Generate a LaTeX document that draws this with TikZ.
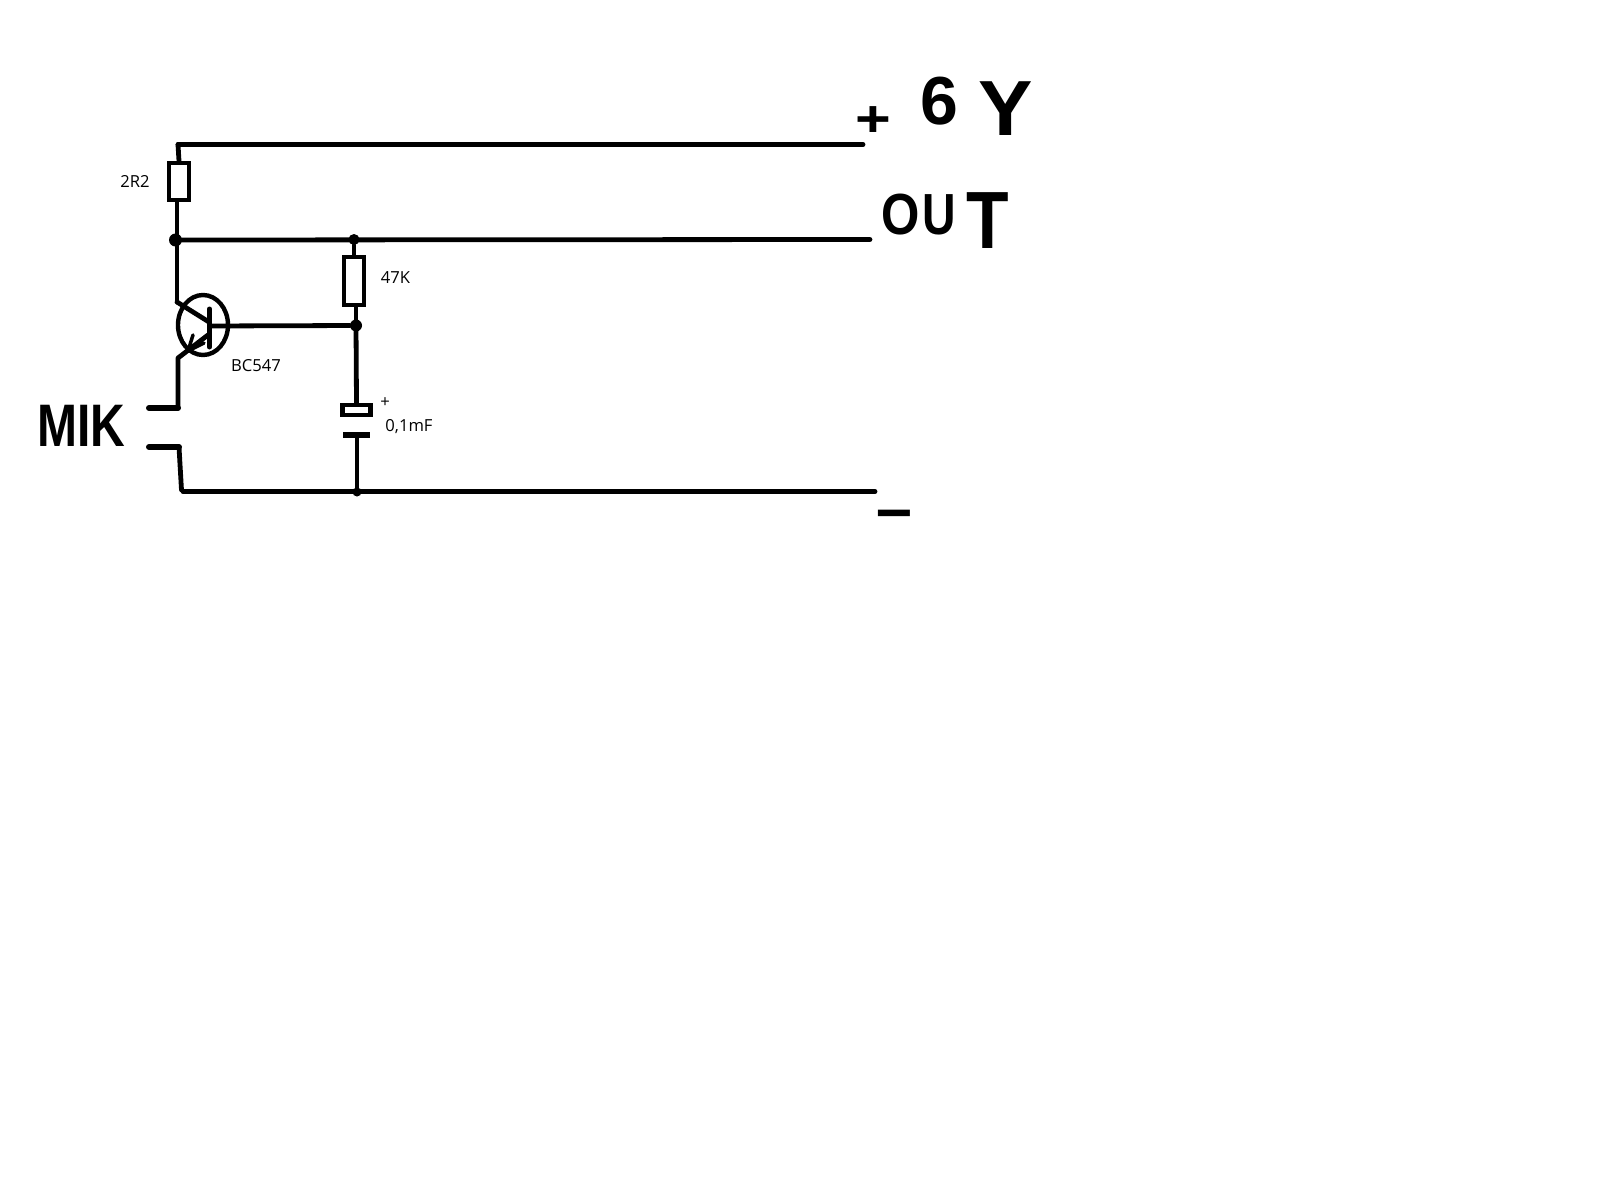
\documentclass[tikz,border=0pt]{standalone}
\usepackage{fontspec}
\usepackage{graphicx}
\setmainfont{Open Sans}
\newfontfamily\handfont{Liberation Sans}[BoldFont={Liberation Sans Bold}]
\usetikzlibrary{shapes.geometric}
\tikzset{
  wire/.style={draw=black,line width=4.8pt,line cap=round,line join=round},
  thick wire/.style={draw=black,line width=6pt,line cap=round,line join=round},
  resbox/.style={draw=black,line width=4.8pt,fill=white,rectangle,inner sep=0pt,minimum width=20pt},
  capbox/.style={draw=black,line width=4.8pt,fill=white,rectangle,inner sep=0pt,minimum width=28pt,minimum height=10pt},
  dot/.style={circle,fill=black,inner sep=0pt,minimum size=#1},
  dot/.default=11pt,
  lbl/.style={font=\fontsize{16.6pt}{18pt}\selectfont,inner sep=0pt,text=black},
  hand/.style={inner sep=0pt,anchor=base west,text=black}
}
\begin{document}
\begin{tikzpicture}[x=1pt,y=-1pt]
\useasboundingbox[fill=white] (0,0) rectangle (1604,1204);
% junctions and free ends
\coordinate (topL) at (178,144.5);
\coordinate (topR) at (863,144.5);
\coordinate (midR) at (870,239.5);
\coordinate (botL) at (183,491.5);
\coordinate (botR) at (875,491.5);
\node[dot=13pt] (j1) at (175.5,240) {};
\coordinate (j1t) at (177,240);
\node[dot=11pt] (j2) at (354,239.5) {};
\node[dot=12pt] (j3) at (356,325.5) {};
\node[dot=9pt] (j4) at (357,492) {};
% components
\node[resbox,minimum height=37pt] (r1) at (179,181.5) {};
\node[resbox,minimum height=48pt] (r2) at (354,281) {};
\node[capbox] (cp) at (356.5,410) {};
\coordinate (cnL) at (343,435);
\coordinate (cnR) at (370,435);
\coordinate (cnM) at (357,435);
\coordinate (r1b) at (177,202);
\coordinate (r1t) at (179,161);
\coordinate (r2b) at (356,307);
\node[ellipse,draw=black,line width=4.4pt,inner sep=0pt,minimum width=50pt,minimum height=60pt] (q) at (203,325) {};
% transistor internals
\coordinate (bT) at (209.5,309);
\coordinate (bB) at (209.5,347);
\coordinate (bM) at (209.5,326);
\coordinate (cI) at (209,322);
\coordinate (cO) at (177,302);
\coordinate (eI) at (208,335);
\coordinate (eO) at (178,358);
\coordinate (arT) at (188,351);
\coordinate (arA) at (193,335);
\coordinate (arB) at (204,343);
% microphone
\coordinate (m1) at (178,408);
\coordinate (m1L) at (149,408);
\coordinate (m2) at (179,447);
\coordinate (m2L) at (149,447);
\coordinate (m2B) at (181.5,490);
% rails
\draw[wire] (topL) -- (topR);
\draw[wire] (j1) -- (midR);
\draw[wire] (botL) -- (botR);
% wiring
\draw[wire] (topL) -- (r1t);
\draw[wire] (r1b) -- (j1t);
\draw[wire] (j1t) -- (cO);
\draw[wire] (cO) -- (cI);
\draw[wire] (j2) -- (r2.north);
\draw[wire] (r2b) -- (j3);
\draw[wire] (bM) -- (j3);
\draw[wire] (j3) -- (cp.north);
\draw[wire] (cnM) -- (j4);
\draw[thick wire,line cap=butt] (cnL) -- (cnR);
\draw[wire,line width=5pt] (bT) -- (bB);
\draw[wire] (eI) -- (eO) -- (m1);
\draw[thick wire] (m1) -- (m1L);
\draw[thick wire] (m2L) -- (m2);
\draw[wire] (m2) -- (m2B);
\draw[wire,line width=3.5pt] (arA) -- (arT) -- (arB);
% printed labels
\node[lbl] (t2r2) at (135,181) {2R2};
\node[lbl] (t47k) at (395.5,278) {47K};
\node[lbl] (tbc) at (256,366) {BC547};
\node[lbl] (tplus) at (385,403) {+};
\node[lbl] (tcap) at (409,427) {0,1mF};
% hand lettering
\node[hand] (tv) at (855,125) {\handfont\bfseries\fontsize{68pt}{70pt}\selectfont\raisebox{-12pt}{\scalebox{.9}[.75]{+}}\hspace{30pt}6\hspace{20pt}\raisebox{-10pt}{\scalebox{1.2}[1.15]{Y}}};
\node[hand] (tout) at (881,234) {\handfont\bfseries\fontsize{58pt}{60pt}\selectfont\scalebox{.85}[1]{O}\hspace{3pt}\scalebox{.8}[1]{U}\hspace{10pt}\raisebox{-14pt}{\scalebox{1.2}[1.4]{T}}};
\node[hand] (tmik) at (37,446) {\handfont\bfseries\fontsize{60pt}{62pt}\selectfont\scalebox{.8}[1]{MIK}};
\node[hand] (tminus) at (873,527) {\handfont\bfseries\fontsize{68pt}{70pt}\selectfont\scalebox{1.85}[.8]{-}};
\end{tikzpicture}
\end{document}
